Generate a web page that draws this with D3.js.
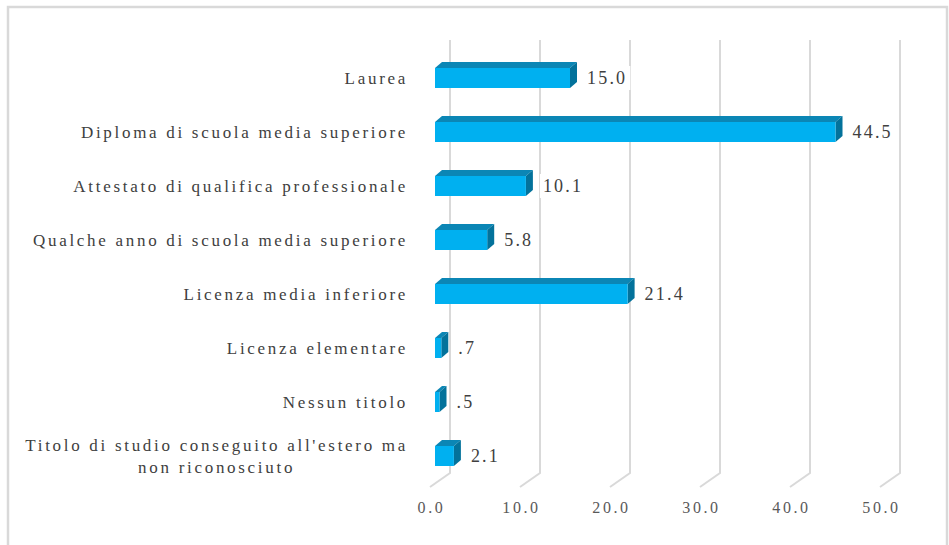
<!DOCTYPE html>
<html>
<head>
<meta charset="utf-8">
<script src="https://cdn.jsdelivr.net/npm/d3@7"></script>
<style>
  body { margin: 0; background: #fff; }
  svg { display: block; }
</style>
</head>
<body>
<svg id="chart"></svg>
<script>
const categories = [
  "Laurea",
  "Diploma di scuola media superiore",
  "Attestato di qualifica professionale",
  "Qualche anno di scuola media superiore",
  "Licenza media inferiore",
  "Licenza elementare",
  "Nessun titolo",
  "Titolo di studio conseguito all'estero ma|non riconosciuto"
];
const values = [15.0, 44.5, 10.1, 5.8, 21.4, 0.7, 0.5, 2.1];
const valueLabels = ["15.0", "44.5", "10.1", "5.8", "21.4", ".7", ".5", "2.1"];
const xTicks = [0, 10, 20, 30, 40, 50];

const width = 949;
const height = 545;
const svg = d3.select("#chart").attr("width", width).attr("height", height);

const font = "'Liberation Serif', 'DejaVu Serif', 'Times New Roman', Times, serif";

// outer border
svg.append("rect")
   .attr("x", 8).attr("y", 7)
   .attr("width", 939).attr("height", 545)
   .attr("fill", "none")
   .attr("stroke", "#d9d9d9")
   .attr("stroke-width", 2.5);

// front plane scale (where the bars sit) and back wall offset
const x = d3.scaleLinear().domain([0, 50]).range([435, 885]);
const y = d3.scalePoint().domain(categories).range([78, 456]);
const backDx = 15, floorDx = -20, floorDy = 14;
const gridTop = 40, gridBottom = 473;
const barH = 20, depthX = 7, depthY = 6;

// gridlines: back wall verticals + floor diagonal
svg.append("g")
   .selectAll("path")
   .data(xTicks)
   .enter()
   .append("path")
   .attr("d", d => {
     const bx = x(d) + backDx;
     return "M" + bx + "," + gridTop + "L" + bx + "," + gridBottom +
            "L" + (bx + floorDx) + "," + (gridBottom + floorDy);
   })
   .attr("fill", "none")
   .attr("stroke", "#d9d9d9")
   .attr("stroke-width", 2);

// x axis labels
const xAxis = d3.axisBottom(x)
                .tickValues(xTicks)
                .tickFormat(d3.format(".1f"))
                .tickSize(0);

const gx = svg.append("g")
   .attr("transform", "translate(" + (backDx + floorDx + 1) + "," + 499 + ")")
   .call(xAxis);
gx.select(".domain").remove();
gx.selectAll("text")
  .style("font-family", font)
  .style("font-size", "16px")
  .attr("letter-spacing", "2.6px")
  .attr("fill", "#595959");

// bars
const bars = svg.append("g")
   .selectAll("g")
   .data(categories)
   .enter()
   .append("g");

// top face
bars.append("path")
    .attr("d", (d, i) => {
      const x0 = x(0), x1 = x(values[i]), yt = y(d) - barH / 2;
      return "M" + x0 + "," + yt + "L" + (x0 + depthX) + "," + (yt - depthY) +
             "L" + (x1 + depthX) + "," + (yt - depthY) + "L" + x1 + "," + yt + "Z";
    })
    .attr("fill", "#0b86b5");

// side face
bars.append("path")
    .attr("d", (d, i) => {
      const x1 = x(values[i]), yt = y(d) - barH / 2;
      return "M" + x1 + "," + yt + "L" + (x1 + depthX) + "," + (yt - depthY) +
             "L" + (x1 + depthX) + "," + (yt - depthY + barH) + "L" + x1 + "," + (yt + barH) + "Z";
    })
    .attr("fill", "#03729b");

// front face
bars.append("rect")
    .attr("x", x(0))
    .attr("y", d => y(d) - barH / 2)
    .attr("width", (d, i) => x(values[i]) - x(0))
    .attr("height", barH)
    .attr("fill", "#00b0f0");

// value labels with white background
bars.each(function(d, i) {
  const g = d3.select(this);
  const lx = x(values[i]) + depthX + 10;
  const bg = g.append("rect").attr("fill", "#fff");
  const t = g.append("text")
     .attr("x", lx)
     .attr("y", y(d) + 6)
     .style("font-family", font)
     .style("font-size", "18px")
     .attr("letter-spacing", "2.2px")
     .attr("fill", "#404040")
     .text(valueLabels[i]);
  const bb = t.node().getBBox();
  bg.attr("x", bb.x - 3).attr("y", bb.y - 2)
    .attr("width", bb.width + 6).attr("height", bb.height + 4);
});

// category labels
const labelRight = 408;
svg.append("g")
   .selectAll("text")
   .data(categories)
   .enter()
   .append("text")
   .style("font-family", font)
   .style("font-size", "17px")
   .attr("letter-spacing", "2.7px")
   .attr("fill", "#404040")
   .each(function(d) {
     const t = d3.select(this);
     const lines = d.split("|");
     if (lines.length === 1) {
       t.attr("x", labelRight).attr("y", y(d) + 6)
        .attr("text-anchor", "end").text(d);
     } else {
       // two-line label: block right aligned, lines centred inside it
       const first = t.append("tspan").text(lines[0]);
       const w = first.node().getComputedTextLength();
       const cx = labelRight - w / 2;
       t.attr("text-anchor", "middle");
       first.attr("x", cx).attr("y", y(d) - 5);
       t.append("tspan").attr("x", cx).attr("y", y(d) + 17).text(lines[1]);
     }
   });
</script>
</body>
</html>
